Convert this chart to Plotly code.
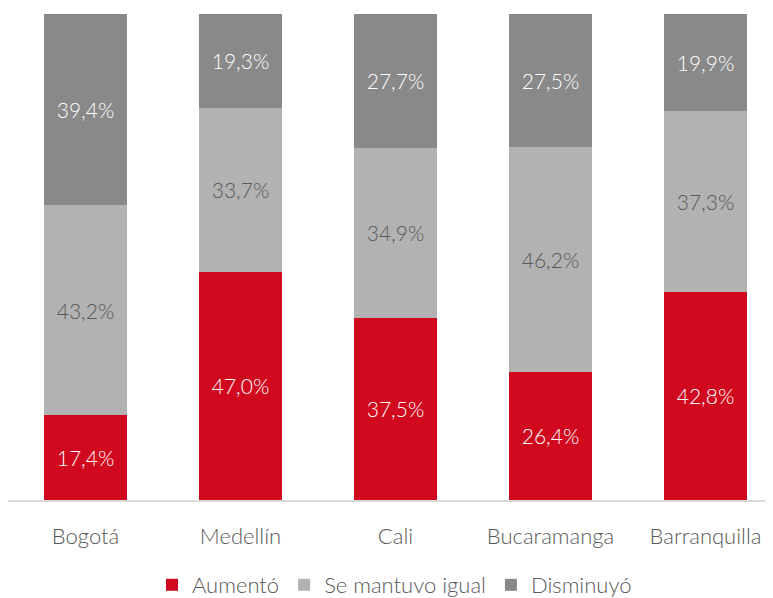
import plotly.graph_objects as go

ciudades = ["Bogotá", "Medellín", "Cali", "Bucaramanga", "Barranquilla"]
aumento = [17.4, 47.0, 37.5, 26.4, 42.8]
igual = [43.2, 33.7, 34.9, 46.2, 37.3]
disminuyo = [39.4, 19.3, 27.7, 27.5, 19.9]

font = "Lato, 'Open Sans', sans-serif"


def etiquetas(vals):
    return [f"{v:.1f}%".replace(".", ",") for v in vals]


series = [
    ("Aumentó", aumento, "#D0091E", "white"),
    ("Se mantuvo igual", igual, "#B2B2B2", "#595959"),
    ("Disminuyó", disminuyo, "#898989", "white"),
]

fig = go.Figure()
for nombre, vals, color, tcolor in series:
    fig.add_trace(go.Bar(
        x=ciudades, y=vals, name=nombre,
        marker=dict(color=color, line=dict(width=0)),
        text=etiquetas(vals), textposition="inside", insidetextanchor="middle",
        textfont=dict(color=tcolor, size=21, family=font, weight=300),
        width=0.53,
    ))

# la página añade 8px de margen al body, se compensa aquí
fig.update_layout(
    barmode="stack",
    width=773, height=598,
    margin=dict(l=0, r=0, t=6, b=103),
    plot_bgcolor="white", paper_bgcolor="white",
    font=dict(family=font, size=22, color="#595959", weight=300),
    showlegend=True,
    legend=dict(orientation="h", x=0.5, xanchor="center", y=-0.176, yanchor="middle",
                font=dict(size=22, color="#595959", weight=300), traceorder="normal",
                itemwidth=30),
)
fig.update_xaxes(range=[-0.5, 4.487], showline=True, linecolor="#D9D9D9", linewidth=1.5,
                 ticks="", ticklabelstandoff=16,
                 tickfont=dict(size=22, color="#595959", weight=300))
fig.update_yaxes(range=[0, 100], visible=False, showgrid=False)

fig.write_html("out.html")
